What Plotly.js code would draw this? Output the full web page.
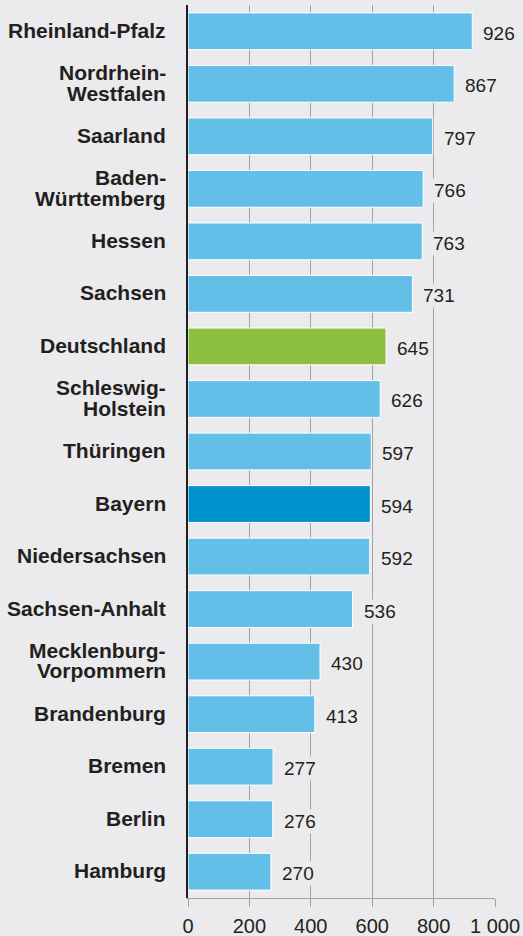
<!DOCTYPE html>
<html>
<head>
<meta charset="utf-8">
<script src="https://cdn.plot.ly/plotly-3.0.1.min.js"></script>
<style>
html,body{margin:0;padding:0;background:#ebebed;}
#chart{width:523px;height:936px;}
</style>
</head>
<body>
<div id="chart"></div>
<script>
const categories = [
  "Rheinland-Pfalz", "Nordrhein-<br>Westfalen", "Saarland", "Baden-<br>Württemberg",
  "Hessen", "Sachsen", "Deutschland", "Schleswig-<br>Holstein", "Thüringen", "Bayern",
  "Niedersachsen", "Sachsen-Anhalt", "Mecklenburg-<br>Vorpommern", "Brandenburg",
  "Bremen", "Berlin", "Hamburg"
];
const values = [926, 867, 797, 766, 763, 731, 645, 626, 597, 594, 592, 536, 430, 413, 277, 276, 270];
const tickValues = [0, 200, 400, 600, 800, 1000];
const tickLabels = ["0", "200", "400", "600", "800", "1 000"];

const BASE = "#63bfe8", GERMANY = "#8dc03f", BAVARIA = "#0093d0";
const colors = categories.map(c => c === "Deutschland" ? GERMANY : (c === "Bayern" ? BAVARIA : BASE));
const ids = categories.map((c, i) => "c" + i);

const trace = {
  type: "bar",
  orientation: "h",
  x: values,
  y: ids,
  width: 0.7,
  marker: {color: colors, line: {color: "#ffffff", width: 1}},
  hoverinfo: "skip"
};

const annotations = [];
categories.forEach((lab, i) => {
  const lines = lab.split("<br>");
  const n = lines.length;
  lines.forEach((ln, k) => {
    annotations.push({
      xref: "paper", yref: "y", x: 0, y: ids[i],
      text: ln, showarrow: false, xanchor: "right", yanchor: "middle",
      xshift: -20, yshift: ((n - 1) / 2 - k) * 20.5 + 1,
      font: {family: "Liberation Sans, Arial, sans-serif", size: 21, color: "#231f20", weight: "bold"}
    });
  });
  annotations.push({
    xref: "x", yref: "y", x: values[i], y: ids[i],
    text: String(values[i]), showarrow: false, xanchor: "left", yanchor: "middle",
    xshift: 9, yshift: -2, bgcolor: "#ebebed", borderpad: 1,
    font: {family: "Liberation Sans, Arial, sans-serif", size: 19, color: "#231f20"}
  });
});

const layout = {
  width: 523, height: 936,
  margin: {l: 188, r: 28, t: 5, b: 38},
  paper_bgcolor: "#ebebed", plot_bgcolor: "#ebebed",
  showlegend: false,
  xaxis: {
    range: [0, 1000], tickvals: tickValues, ticktext: tickLabels,
    showgrid: true, gridcolor: "#a3a3a3", gridwidth: 1, zeroline: false,
    showline: true, linecolor: "#a3a3a3", linewidth: 1,
    ticks: "outside", ticklen: 8, tickcolor: "#a3a3a3", tickwidth: 1,
    ticklabelstandoff: 2,
    tickfont: {family: "Liberation Sans, Arial, sans-serif", size: 20, color: "#231f20"},
    fixedrange: true
  },
  yaxis: {
    type: "category", range: [16.5, -0.5], showticklabels: false,
    showgrid: false, zeroline: false, ticks: "",
    showline: true, linecolor: "#231f20", linewidth: 2, fixedrange: true
  },
  bargap: 0.3,
  annotations: annotations
};

Plotly.newPlot("chart", [trace], layout, {displayModeBar: false, staticPlot: true});
</script>
</body>
</html>
